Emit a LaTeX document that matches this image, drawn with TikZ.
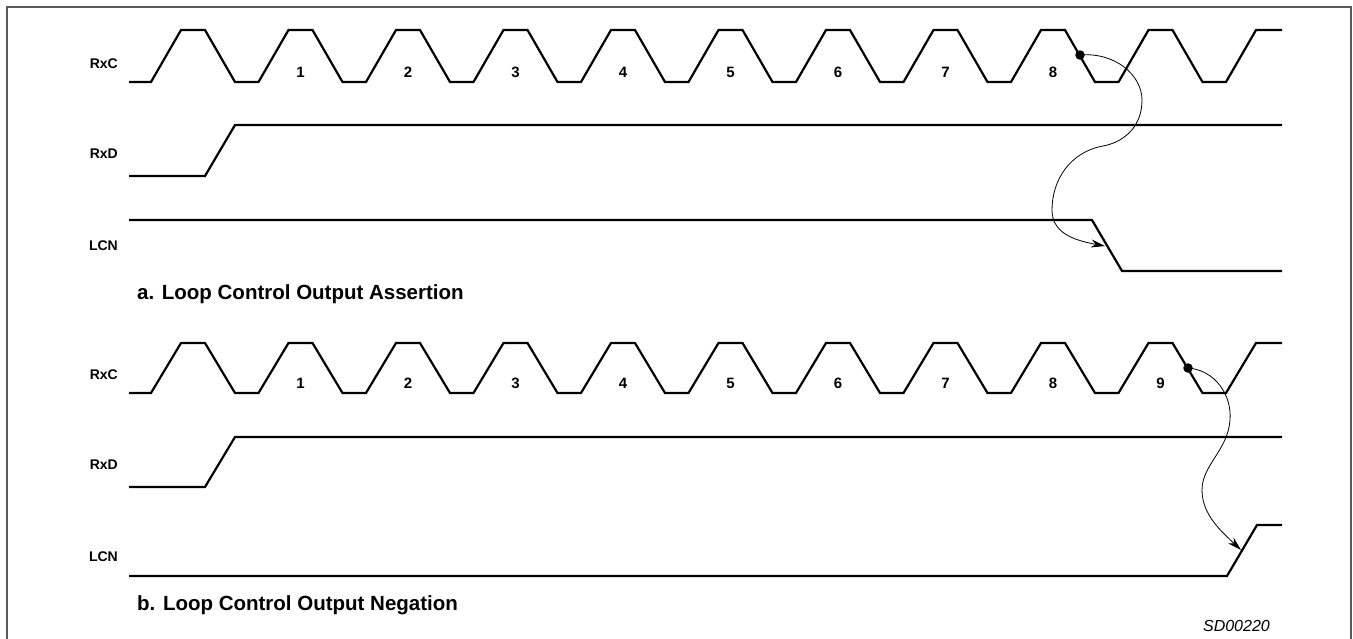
\documentclass[tikz,border=0pt]{standalone}
\usepackage{fontspec}
\setmainfont{Liberation Sans}
\usetikzlibrary{arrows.meta}
\begin{document}
\begin{tikzpicture}[x=1pt, y=-1pt,
  wave/.style = {line width=2.2pt, line join=miter},
  link/.style = {line width=0.8pt, -{Stealth[length=14pt, width=8pt]}},
  trig/.style = {circle, fill, inner sep=0pt, minimum size=9.5pt},
  signame/.style = {anchor=base east, inner sep=0pt,
    font=\fontsize{14}{16}\selectfont\bfseries},
  bitnum/.style = {anchor=base, inner sep=0pt,
    font=\fontsize{15}{17}\selectfont\bfseries},
  caption/.style = {anchor=base west, inner sep=0pt,
    font=\fontsize{20.5}{24}\selectfont\bfseries}]
  \useasboundingbox (0,0) rectangle (1353,638);
  \draw[line width=1.8pt, black!65] (7,650) -- (7,7) -- (1351,7) -- (1351,650);

  % a. Loop Control Output Assertion
  \node[signame] (rxcA) at (118,68.5) {RxC};
  \node[signame] (rxdA) at (118,158) {RxD};
  \node[signame] (lcnA) at (118,250) {LCN};
  \draw[wave] (129,82) \foreach \k in {0,...,9} {
      -- ({151+\k*107.5},82) -- ({181+\k*107.5},30)
      -- ({205+\k*107.5},30) -- ({235+\k*107.5},82) }
    -- (1226,82) -- (1256,30) -- (1282,30);
  \foreach \i in {1,...,8}
    \node[bitnum] (numA\i) at ({193+\i*107.5},77.5) {\i};
  \draw[wave] (129,176) -- (205,176) -- (235,125) -- (1282,125);
  \draw[wave] (129,220) -- (1092,220) -- (1122,271) -- (1282,271);
  \node[trig] (trigA) at (1080,55) {};
  \coordinate (edgeA) at (1105,246);
  \draw[link] (trigA.center) .. controls (1115,52) and (1142,75) .. (1142,100)
    .. controls (1142,130) and (1120,143) .. (1103,146)
    .. controls (1070,152) and (1052,180) .. (1052,210)
    .. controls (1052,232) and (1072,240) .. (edgeA);
  \node[caption] (titleA) at (137,299) {a. Loop Control Output Assertion};

  % b. Loop Control Output Negation
  \node[signame] (rxcB) at (118,379.5) {RxC};
  \node[signame] (rxdB) at (118,469) {RxD};
  \node[signame] (lcnB) at (118,561) {LCN};
  \draw[wave] (129,393) \foreach \k in {0,...,9} {
      -- ({151+\k*107.5},393) -- ({181+\k*107.5},343)
      -- ({205+\k*107.5},343) -- ({235+\k*107.5},393) }
    -- (1226,393) -- (1256,343) -- (1282,343);
  \foreach \i in {1,...,9}
    \node[bitnum] (numB\i) at ({193+\i*107.5},388.5) {\i};
  \draw[wave] (129,487) -- (205,487) -- (235,437) -- (1282,437);
  \draw[wave] (129,576) -- (1227,576) -- (1257,525) -- (1282,525);
  \node[trig] (trigB) at (1188,368) {};
  \coordinate (edgeB) at (1241,550);
  \draw[link] (trigB.center) .. controls (1215,370) and (1232,395) .. (1230,420)
    .. controls (1228,450) and (1202,465) .. (1202,490)
    .. controls (1202,515) and (1222,532) .. (edgeB);
  \node[caption] (titleB) at (137,610) {b. Loop Control Output Negation};

  \node[anchor=base east, inner sep=0pt, font=\fontsize{16}{18}\selectfont\itshape]
    (code) at (1270,631.5) {SD00220};
\end{tikzpicture}
\end{document}
